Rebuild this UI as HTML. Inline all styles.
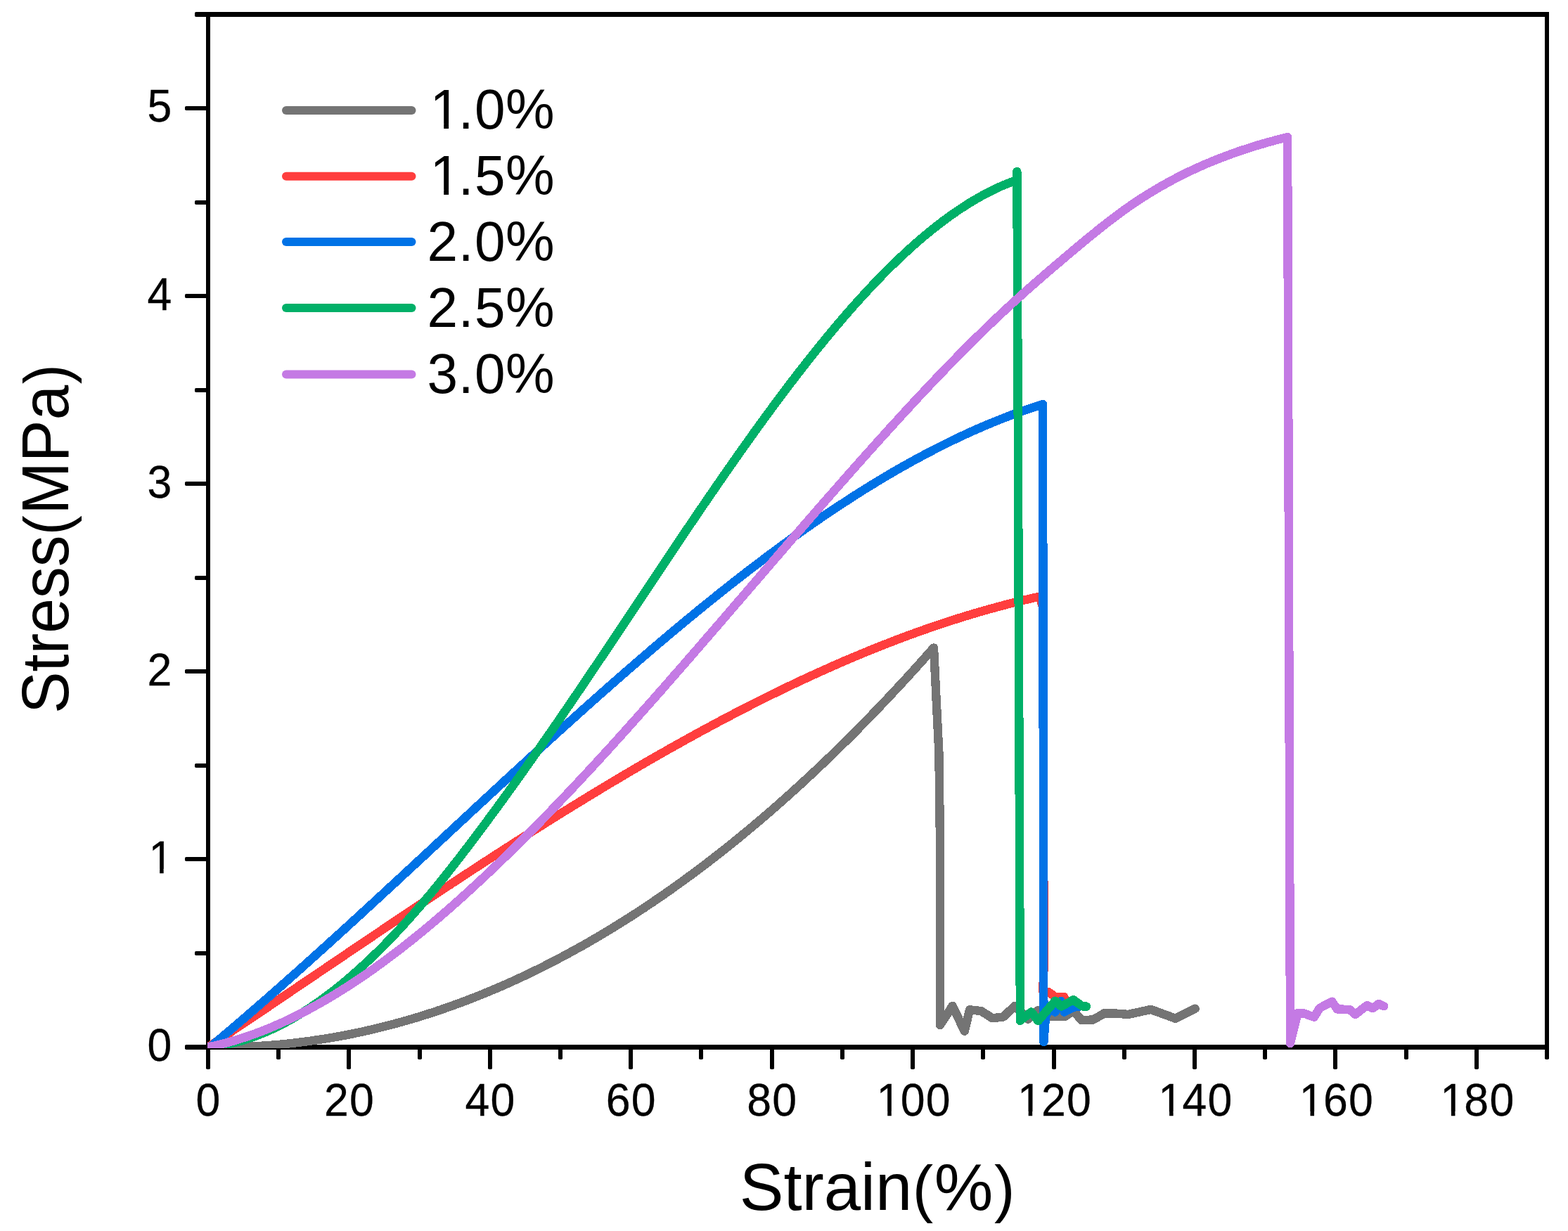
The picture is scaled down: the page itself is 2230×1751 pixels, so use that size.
<!DOCTYPE html>
<html lang="en">
<head>
<meta charset="utf-8">
<title>Stress-Strain curves</title>
<style>
html,body{margin:0;padding:0;background:#fff;}
body{width:2230px;height:1751px;overflow:hidden;font-family:"Liberation Sans",Arial,Helvetica,sans-serif;}
svg{display:block;}
text{white-space:pre;}
</style>
</head>
<body>
<svg xmlns="http://www.w3.org/2000/svg" width="2230" height="1751" viewBox="0 0 2230 1751">
<rect x="0" y="0" width="2230" height="1751" fill="#ffffff"/>
<defs><clipPath id="plotclip"><rect x="295" y="19" width="1906" height="1472"/></clipPath></defs>
<g id="axes" fill="#000" shape-rendering="crispEdges">
<rect x="293" y="17" width="1910" height="7"/>
<rect x="293" y="1486" width="1910" height="7"/>
<rect x="293" y="17" width="6" height="1476"/>
<rect x="2197" y="17" width="6" height="1476"/>
</g>
<g id="ticks" fill="#000">
<rect x="263" y="1486" width="33" height="7" rx="1.8"/>
<rect x="277" y="1353" width="19" height="6" rx="1.8"/>
<rect x="263" y="1219" width="33" height="6" rx="1.8"/>
<rect x="277" y="1086" width="19" height="6" rx="1.8"/>
<rect x="263" y="952" width="33" height="6" rx="1.8"/>
<rect x="277" y="819" width="19" height="6" rx="1.8"/>
<rect x="263" y="685" width="33" height="6" rx="1.8"/>
<rect x="277" y="552" width="19" height="6" rx="1.8"/>
<rect x="263" y="418" width="33" height="6" rx="1.8"/>
<rect x="277" y="285" width="19" height="6" rx="1.8"/>
<rect x="263" y="151" width="33" height="6" rx="1.8"/>
<rect x="277" y="17" width="19" height="7" rx="1.8"/>
<rect x="293" y="1491" width="6" height="30" rx="1.8"/>
<rect x="393" y="1491" width="6" height="16" rx="1.8"/>
<rect x="493" y="1491" width="6" height="30" rx="1.8"/>
<rect x="594" y="1491" width="6" height="16" rx="1.8"/>
<rect x="694" y="1491" width="6" height="30" rx="1.8"/>
<rect x="794" y="1491" width="6" height="16" rx="1.8"/>
<rect x="894" y="1491" width="6" height="30" rx="1.8"/>
<rect x="994" y="1491" width="6" height="16" rx="1.8"/>
<rect x="1095" y="1491" width="6" height="30" rx="1.8"/>
<rect x="1195" y="1491" width="6" height="16" rx="1.8"/>
<rect x="1295" y="1491" width="6" height="30" rx="1.8"/>
<rect x="1395" y="1491" width="6" height="16" rx="1.8"/>
<rect x="1496" y="1491" width="6" height="30" rx="1.8"/>
<rect x="1596" y="1491" width="6" height="16" rx="1.8"/>
<rect x="1696" y="1491" width="6" height="30" rx="1.8"/>
<rect x="1796" y="1491" width="6" height="16" rx="1.8"/>
<rect x="1896" y="1491" width="6" height="30" rx="1.8"/>
<rect x="1997" y="1491" width="6" height="16" rx="1.8"/>
<rect x="2097" y="1491" width="6" height="30" rx="1.8"/>
<rect x="2197" y="1491" width="6" height="16" rx="1.8"/>
</g>
<g id="curves" fill="none" stroke-linejoin="round" stroke-linecap="round" clip-path="url(#plotclip)" shape-rendering="crispEdges">
<path d="M296.0,1489.5 L300.0,1489.5 L304.0,1489.6 L308.0,1489.6 L312.0,1489.6 L316.0,1489.6 L320.0,1489.6 L324.0,1489.5 L328.0,1489.5 L332.0,1489.4 L336.0,1489.3 L340.0,1489.2 L344.0,1489.1 L348.0,1488.9 L352.0,1488.8 L356.0,1488.6 L360.0,1488.4 L364.0,1488.2 L368.0,1488.0 L372.0,1487.7 L376.0,1487.4 L380.0,1487.2 L384.0,1486.9 L388.0,1486.5 L392.0,1486.2 L396.0,1485.9 L400.0,1485.5 L404.0,1485.1 L408.0,1484.7 L412.0,1484.3 L416.0,1483.9 L420.0,1483.4 L424.0,1482.9 L428.0,1482.4 L432.0,1481.9 L436.0,1481.4 L440.0,1480.9 L444.0,1480.3 L448.0,1479.7 L452.0,1479.1 L456.0,1478.5 L460.0,1477.9 L464.0,1477.3 L468.0,1476.6 L472.0,1475.9 L476.0,1475.2 L480.0,1474.5 L484.0,1473.8 L488.0,1473.0 L492.0,1472.3 L496.0,1471.5 L500.0,1470.7 L504.0,1469.9 L508.0,1469.0 L512.0,1468.2 L516.0,1467.3 L520.0,1466.4 L524.0,1465.5 L528.0,1464.6 L532.0,1463.7 L536.0,1462.7 L540.0,1461.7 L544.0,1460.7 L548.0,1459.7 L552.0,1458.7 L556.0,1457.7 L560.0,1456.6 L564.0,1455.5 L568.0,1454.4 L572.0,1453.3 L576.0,1452.2 L580.0,1451.0 L584.0,1449.9 L588.0,1448.7 L592.0,1447.5 L596.0,1446.3 L600.0,1445.0 L604.0,1443.8 L608.0,1442.5 L612.0,1441.2 L616.0,1439.9 L620.0,1438.6 L624.0,1437.2 L628.0,1435.9 L632.0,1434.5 L636.0,1433.1 L640.0,1431.7 L644.0,1430.3 L648.0,1428.8 L652.0,1427.4 L656.0,1425.9 L660.0,1424.4 L664.0,1422.9 L668.0,1421.3 L672.0,1419.8 L676.0,1418.2 L680.0,1416.6 L684.0,1415.0 L688.0,1413.4 L692.0,1411.7 L696.0,1410.1 L700.0,1408.4 L704.0,1406.7 L708.0,1405.0 L712.0,1403.3 L716.0,1401.5 L720.0,1399.8 L724.0,1398.0 L728.0,1396.2 L732.0,1394.3 L736.0,1392.5 L740.0,1390.7 L744.0,1388.8 L748.0,1386.9 L752.0,1385.0 L756.0,1383.1 L760.0,1381.1 L764.0,1379.2 L768.0,1377.2 L772.0,1375.2 L776.0,1373.2 L780.0,1371.1 L784.0,1369.1 L788.0,1367.0 L792.0,1364.9 L796.0,1362.8 L800.0,1360.7 L804.0,1358.6 L808.0,1356.4 L812.0,1354.2 L816.0,1352.0 L820.0,1349.8 L824.0,1347.6 L828.0,1345.4 L832.0,1343.1 L836.0,1340.8 L840.0,1338.5 L844.0,1336.2 L848.0,1333.9 L852.0,1331.5 L856.0,1329.1 L860.0,1326.7 L864.0,1324.3 L868.0,1321.9 L872.0,1319.5 L876.0,1317.0 L880.0,1314.5 L884.0,1312.0 L888.0,1309.5 L892.0,1307.0 L896.0,1304.4 L900.0,1301.8 L904.0,1299.3 L908.0,1296.7 L912.0,1294.0 L916.0,1291.4 L920.0,1288.7 L924.0,1286.0 L928.0,1283.4 L932.0,1280.6 L936.0,1277.9 L940.0,1275.2 L944.0,1272.4 L948.0,1269.6 L952.0,1266.8 L956.0,1264.0 L960.0,1261.1 L964.0,1258.3 L968.0,1255.4 L972.0,1252.5 L976.0,1249.6 L980.0,1246.6 L984.0,1243.7 L988.0,1240.7 L992.0,1237.7 L996.0,1234.7 L1000.0,1231.7 L1004.0,1228.7 L1008.0,1225.6 L1012.0,1222.5 L1016.0,1219.4 L1020.0,1216.3 L1024.0,1213.2 L1028.0,1210.0 L1032.0,1206.9 L1036.0,1203.7 L1040.0,1200.5 L1044.0,1197.3 L1048.0,1194.0 L1052.0,1190.8 L1056.0,1187.5 L1060.0,1184.2 L1064.0,1180.9 L1068.0,1177.5 L1072.0,1174.2 L1076.0,1170.8 L1080.0,1167.4 L1084.0,1164.0 L1088.0,1160.6 L1092.0,1157.2 L1096.0,1153.7 L1100.0,1150.2 L1104.0,1146.7 L1108.0,1143.2 L1112.0,1139.7 L1116.0,1136.1 L1120.0,1132.5 L1124.0,1129.0 L1128.0,1125.3 L1132.0,1121.7 L1136.0,1118.1 L1140.0,1114.4 L1144.0,1110.7 L1148.0,1107.0 L1152.0,1103.3 L1156.0,1099.6 L1160.0,1095.8 L1164.0,1092.0 L1168.0,1088.2 L1172.0,1084.4 L1176.0,1080.6 L1180.0,1076.8 L1184.0,1072.9 L1188.0,1069.0 L1192.0,1065.1 L1196.0,1061.2 L1200.0,1057.2 L1204.0,1053.3 L1208.0,1049.3 L1212.0,1045.3 L1216.0,1041.3 L1220.0,1037.3 L1224.0,1033.2 L1228.0,1029.1 L1232.0,1025.1 L1236.0,1020.9 L1240.0,1016.8 L1244.0,1012.7 L1248.0,1008.5 L1252.0,1004.3 L1256.0,1000.1 L1260.0,995.9 L1264.0,991.7 L1268.0,987.4 L1272.0,983.1 L1276.0,978.8 L1280.0,974.5 L1284.0,970.2 L1288.0,965.9 L1292.0,961.5 L1296.0,957.1 L1300.0,952.7 L1304.0,948.3 L1308.0,943.8 L1312.0,939.4 L1316.0,934.9 L1320.0,930.4 L1324.0,925.9 L1328.0,921.5 L1335.4,1071.0 L1337.0,1200.0 L1337.0,1458.0 L1354.7,1430.8 L1371.7,1466.7 L1379.1,1436.3 L1395.6,1438.2 L1411.3,1448.3 L1426.9,1446.4 L1443.4,1430.8 L1462.0,1449.8 L1476.4,1437.0 L1491.8,1446.2 L1513.7,1446.2 L1527.0,1438.0 L1538.2,1451.3 L1554.9,1450.4 L1570.6,1441.3 L1583.0,1441.3 L1604.6,1442.9 L1636.8,1435.9 L1671.6,1448.7 L1699.7,1434.7" stroke="#747474" stroke-width="12.4"/>
<path d="M296.0,1489.5 L300.0,1486.9 L304.0,1484.2 L308.0,1481.5 L312.0,1478.8 L316.0,1476.2 L320.0,1473.5 L324.0,1470.8 L328.0,1468.1 L332.0,1465.4 L336.0,1462.7 L340.0,1460.0 L344.0,1457.3 L348.0,1454.7 L352.0,1452.0 L356.0,1449.3 L360.0,1446.6 L364.0,1443.9 L368.0,1441.2 L372.0,1438.5 L376.0,1435.8 L380.0,1433.1 L384.0,1430.4 L388.0,1427.7 L392.0,1425.0 L396.0,1422.3 L400.0,1419.6 L404.0,1416.9 L408.0,1414.2 L412.0,1411.5 L416.0,1408.7 L420.0,1406.0 L424.0,1403.3 L428.0,1400.6 L432.0,1397.9 L436.0,1395.2 L440.0,1392.5 L444.0,1389.8 L448.0,1387.1 L452.0,1384.4 L456.0,1381.7 L460.0,1379.0 L464.0,1376.3 L468.0,1373.6 L472.0,1370.9 L476.0,1368.2 L480.0,1365.5 L484.0,1362.8 L488.0,1360.1 L492.0,1357.4 L496.0,1354.6 L500.0,1351.9 L504.0,1349.2 L508.0,1346.6 L512.0,1343.9 L516.0,1341.2 L520.0,1338.5 L524.0,1335.8 L528.0,1333.1 L532.0,1330.4 L536.0,1327.7 L540.0,1325.0 L544.0,1322.3 L548.0,1319.6 L552.0,1316.9 L556.0,1314.3 L560.0,1311.6 L564.0,1308.9 L568.0,1306.2 L572.0,1303.5 L576.0,1300.9 L580.0,1298.2 L584.0,1295.5 L588.0,1292.9 L592.0,1290.2 L596.0,1287.5 L600.0,1284.9 L604.0,1282.2 L608.0,1279.5 L612.0,1276.9 L616.0,1274.2 L620.0,1271.6 L624.0,1268.9 L628.0,1266.3 L632.0,1263.6 L636.0,1261.0 L640.0,1258.4 L644.0,1255.7 L648.0,1253.1 L652.0,1250.5 L656.0,1247.8 L660.0,1245.2 L664.0,1242.6 L668.0,1240.0 L672.0,1237.3 L676.0,1234.7 L680.0,1232.1 L684.0,1229.5 L688.0,1226.9 L692.0,1224.3 L696.0,1221.7 L700.0,1219.1 L704.0,1216.5 L708.0,1214.0 L712.0,1211.4 L716.0,1208.8 L720.0,1206.2 L724.0,1203.7 L728.0,1201.1 L732.0,1198.5 L736.0,1196.0 L740.0,1193.4 L744.0,1190.9 L748.0,1188.3 L752.0,1185.8 L756.0,1183.2 L760.0,1180.7 L764.0,1178.2 L768.0,1175.7 L772.0,1173.1 L776.0,1170.6 L780.0,1168.1 L784.0,1165.6 L788.0,1163.1 L792.0,1160.6 L796.0,1158.1 L800.0,1155.6 L804.0,1153.1 L808.0,1150.7 L812.0,1148.2 L816.0,1145.7 L820.0,1143.3 L824.0,1140.8 L828.0,1138.4 L832.0,1135.9 L836.0,1133.5 L840.0,1131.0 L844.0,1128.6 L848.0,1126.2 L852.0,1123.8 L856.0,1121.3 L860.0,1118.9 L864.0,1116.5 L868.0,1114.1 L872.0,1111.7 L876.0,1109.4 L880.0,1107.0 L884.0,1104.6 L888.0,1102.2 L892.0,1099.9 L896.0,1097.5 L900.0,1095.2 L904.0,1092.8 L908.0,1090.5 L912.0,1088.2 L916.0,1085.8 L920.0,1083.5 L924.0,1081.2 L928.0,1078.9 L932.0,1076.6 L936.0,1074.3 L940.0,1072.0 L944.0,1069.8 L948.0,1067.5 L952.0,1065.2 L956.0,1063.0 L960.0,1060.7 L964.0,1058.5 L968.0,1056.3 L972.0,1054.0 L976.0,1051.8 L980.0,1049.6 L984.0,1047.4 L988.0,1045.2 L992.0,1043.0 L996.0,1040.8 L1000.0,1038.6 L1004.0,1036.5 L1008.0,1034.3 L1012.0,1032.2 L1016.0,1030.0 L1020.0,1027.9 L1024.0,1025.7 L1028.0,1023.6 L1032.0,1021.5 L1036.0,1019.4 L1040.0,1017.3 L1044.0,1015.2 L1048.0,1013.1 L1052.0,1011.1 L1056.0,1009.0 L1060.0,1006.9 L1064.0,1004.9 L1068.0,1002.8 L1072.0,1000.8 L1076.0,998.8 L1080.0,996.8 L1084.0,994.8 L1088.0,992.8 L1092.0,990.8 L1096.0,988.8 L1100.0,986.8 L1104.0,984.9 L1108.0,982.9 L1112.0,981.0 L1116.0,979.1 L1120.0,977.1 L1124.0,975.2 L1128.0,973.3 L1132.0,971.4 L1136.0,969.5 L1140.0,967.6 L1144.0,965.8 L1148.0,963.9 L1152.0,962.1 L1156.0,960.2 L1160.0,958.4 L1164.0,956.6 L1168.0,954.8 L1172.0,953.0 L1176.0,951.2 L1180.0,949.4 L1184.0,947.6 L1188.0,945.9 L1192.0,944.1 L1196.0,942.4 L1200.0,940.6 L1204.0,938.9 L1208.0,937.2 L1212.0,935.5 L1216.0,933.8 L1220.0,932.2 L1224.0,930.5 L1228.0,928.8 L1232.0,927.2 L1236.0,925.5 L1240.0,923.9 L1244.0,922.3 L1248.0,920.7 L1252.0,919.1 L1256.0,917.5 L1260.0,916.0 L1264.0,914.4 L1268.0,912.9 L1272.0,911.3 L1276.0,909.8 L1280.0,908.3 L1284.0,906.8 L1288.0,905.3 L1292.0,903.8 L1296.0,902.3 L1300.0,900.9 L1304.0,899.4 L1308.0,898.0 L1312.0,896.6 L1316.0,895.2 L1320.0,893.8 L1324.0,892.4 L1328.0,891.0 L1332.0,889.7 L1336.0,888.3 L1340.0,887.0 L1344.0,885.7 L1348.0,884.3 L1352.0,883.0 L1356.0,881.8 L1360.0,880.5 L1364.0,879.2 L1368.0,878.0 L1372.0,876.7 L1376.0,875.5 L1380.0,874.3 L1384.0,873.1 L1388.0,871.9 L1392.0,870.7 L1396.0,869.6 L1400.0,868.4 L1404.0,867.3 L1408.0,866.2 L1412.0,865.1 L1416.0,864.0 L1420.0,862.9 L1424.0,861.8 L1428.0,860.8 L1432.0,859.7 L1436.0,858.7 L1440.0,857.7 L1444.0,856.7 L1448.0,855.7 L1452.0,854.7 L1456.0,853.7 L1460.0,852.8 L1464.0,851.9 L1468.0,850.9 L1472.0,850.0 L1476.0,849.1 L1480.0,848.3 L1481.0,848.0 L1481.2,857.0 L1484.0,866.0 L1484.4,1380.0 L1483.2,1410.0 L1491.0,1411.0 L1500.8,1418.0 L1513.5,1418.0" stroke="#FF3E3E" stroke-width="12.4"/>
<path d="M296.0,1491.3 L300.0,1488.5 L304.0,1485.1 L308.0,1481.8 L312.0,1478.4 L316.0,1475.0 L320.0,1471.6 L324.0,1468.2 L328.0,1464.9 L332.0,1461.4 L336.0,1458.0 L340.0,1454.6 L344.0,1451.2 L348.0,1447.7 L352.0,1444.3 L356.0,1440.8 L360.0,1437.4 L364.0,1433.9 L368.0,1430.4 L372.0,1426.9 L376.0,1423.5 L380.0,1420.0 L384.0,1416.5 L388.0,1412.9 L392.0,1409.4 L396.0,1405.9 L400.0,1402.4 L404.0,1398.8 L408.0,1395.3 L412.0,1391.7 L416.0,1388.2 L420.0,1384.6 L424.0,1381.1 L428.0,1377.5 L432.0,1373.9 L436.0,1370.3 L440.0,1366.7 L444.0,1363.1 L448.0,1359.5 L452.0,1355.9 L456.0,1352.3 L460.0,1348.7 L464.0,1345.1 L468.0,1341.5 L472.0,1337.8 L476.0,1334.2 L480.0,1330.6 L484.0,1326.9 L488.0,1323.3 L492.0,1319.7 L496.0,1316.0 L500.0,1312.3 L504.0,1308.7 L508.0,1305.0 L512.0,1301.4 L516.0,1297.7 L520.0,1294.0 L524.0,1290.3 L528.0,1286.7 L532.0,1283.0 L536.0,1279.3 L540.0,1275.6 L544.0,1271.9 L548.0,1268.2 L552.0,1264.5 L556.0,1260.8 L560.0,1257.2 L564.0,1253.5 L568.0,1249.8 L572.0,1246.0 L576.0,1242.3 L580.0,1238.6 L584.0,1234.9 L588.0,1231.2 L592.0,1227.5 L596.0,1223.8 L600.0,1220.1 L604.0,1216.4 L608.0,1212.7 L612.0,1209.0 L616.0,1205.2 L620.0,1201.5 L624.0,1197.8 L628.0,1194.1 L632.0,1190.4 L636.0,1186.7 L640.0,1182.9 L644.0,1179.2 L648.0,1175.5 L652.0,1171.8 L656.0,1168.1 L660.0,1164.4 L664.0,1160.7 L668.0,1157.0 L672.0,1153.2 L676.0,1149.5 L680.0,1145.8 L684.0,1142.1 L688.0,1138.4 L692.0,1134.7 L696.0,1131.0 L700.0,1127.3 L704.0,1123.6 L708.0,1119.9 L712.0,1116.2 L716.0,1112.5 L720.0,1108.8 L724.0,1105.1 L728.0,1101.5 L732.0,1097.8 L736.0,1094.1 L740.0,1090.4 L744.0,1086.8 L748.0,1083.1 L752.0,1079.4 L756.0,1075.7 L760.0,1072.1 L764.0,1068.4 L768.0,1064.8 L772.0,1061.1 L776.0,1057.5 L780.0,1053.8 L784.0,1050.2 L788.0,1046.6 L792.0,1042.9 L796.0,1039.3 L800.0,1035.7 L804.0,1032.1 L808.0,1028.5 L812.0,1024.9 L816.0,1021.3 L820.0,1017.7 L824.0,1014.1 L828.0,1010.5 L832.0,1006.9 L836.0,1003.3 L840.0,999.8 L844.0,996.2 L848.0,992.6 L852.0,989.1 L856.0,985.5 L860.0,982.0 L864.0,978.5 L868.0,974.9 L872.0,971.4 L876.0,967.9 L880.0,964.4 L884.0,960.9 L888.0,957.4 L892.0,953.9 L896.0,950.4 L900.0,947.0 L904.0,943.5 L908.0,940.0 L912.0,936.6 L916.0,933.1 L920.0,929.7 L924.0,926.3 L928.0,922.8 L932.0,919.4 L936.0,916.0 L940.0,912.6 L944.0,909.3 L948.0,905.9 L952.0,902.5 L956.0,899.1 L960.0,895.8 L964.0,892.4 L968.0,889.1 L972.0,885.8 L976.0,882.5 L980.0,879.2 L984.0,875.9 L988.0,872.6 L992.0,869.3 L996.0,866.0 L1000.0,862.8 L1004.0,859.5 L1008.0,856.3 L1012.0,853.1 L1016.0,849.9 L1020.0,846.6 L1024.0,843.4 L1028.0,840.3 L1032.0,837.1 L1036.0,833.9 L1040.0,830.8 L1044.0,827.6 L1048.0,824.5 L1052.0,821.4 L1056.0,818.3 L1060.0,815.2 L1064.0,812.1 L1068.0,809.0 L1072.0,806.0 L1076.0,802.9 L1080.0,799.9 L1084.0,796.9 L1088.0,793.8 L1092.0,790.8 L1096.0,787.9 L1100.0,784.9 L1104.0,781.9 L1108.0,779.0 L1112.0,776.0 L1116.0,773.1 L1120.0,770.2 L1124.0,767.3 L1128.0,764.4 L1132.0,761.6 L1136.0,758.7 L1140.0,755.9 L1144.0,753.0 L1148.0,750.2 L1152.0,747.4 L1156.0,744.6 L1160.0,741.9 L1164.0,739.1 L1168.0,736.4 L1172.0,733.6 L1176.0,730.9 L1180.0,728.2 L1184.0,725.5 L1188.0,722.9 L1192.0,720.2 L1196.0,717.6 L1200.0,715.0 L1204.0,712.4 L1208.0,709.8 L1212.0,707.2 L1216.0,704.6 L1220.0,702.1 L1224.0,699.6 L1228.0,697.0 L1232.0,694.5 L1236.0,692.1 L1240.0,689.6 L1244.0,687.2 L1248.0,684.7 L1252.0,682.3 L1256.0,679.9 L1260.0,677.5 L1264.0,675.2 L1268.0,672.8 L1272.0,670.5 L1276.0,668.2 L1280.0,665.9 L1284.0,663.6 L1288.0,661.4 L1292.0,659.1 L1296.0,656.9 L1300.0,654.7 L1304.0,652.5 L1308.0,650.4 L1312.0,648.2 L1316.0,646.1 L1320.0,644.0 L1324.0,641.9 L1328.0,639.8 L1332.0,637.7 L1336.0,635.7 L1340.0,633.7 L1344.0,631.7 L1348.0,629.7 L1352.0,627.8 L1356.0,625.8 L1360.0,623.9 L1364.0,622.0 L1368.0,620.1 L1372.0,618.3 L1376.0,616.4 L1380.0,614.6 L1384.0,612.8 L1388.0,611.0 L1392.0,609.3 L1396.0,607.5 L1400.0,605.8 L1404.0,604.1 L1408.0,602.5 L1412.0,600.8 L1416.0,599.2 L1420.0,597.6 L1424.0,596.0 L1428.0,594.4 L1432.0,592.9 L1436.0,591.3 L1440.0,589.8 L1444.0,588.4 L1448.0,586.9 L1452.0,585.5 L1456.0,584.1 L1460.0,582.7 L1464.0,581.3 L1468.0,580.0 L1472.0,578.6 L1476.0,577.3 L1480.0,576.1 L1483.0,575.0 L1484.4,1482.0 L1487.0,1446.0 L1491.8,1436.0 L1500.8,1439.5 L1508.9,1424.0 L1513.7,1439.5 L1520.2,1436.0 L1526.6,1432.7 L1535.6,1431.4" stroke="#0072E6" stroke-width="12.4"/>
<path d="M296.0,1489.5 L300.0,1489.1 L304.0,1488.6 L308.0,1488.1 L312.0,1487.5 L316.0,1486.8 L320.0,1486.1 L324.0,1485.3 L328.0,1484.4 L332.0,1483.4 L336.0,1482.4 L340.0,1481.4 L344.0,1480.2 L348.0,1479.0 L352.0,1477.7 L356.0,1476.4 L360.0,1475.0 L364.0,1473.5 L368.0,1472.0 L372.0,1470.4 L376.0,1468.8 L380.0,1467.0 L384.0,1465.3 L388.0,1463.4 L392.0,1461.5 L396.0,1459.5 L400.0,1457.5 L404.0,1455.4 L408.0,1453.3 L412.0,1451.1 L416.0,1448.8 L420.0,1446.5 L424.0,1444.1 L428.0,1441.7 L432.0,1439.2 L436.0,1436.6 L440.0,1434.0 L444.0,1431.3 L448.0,1428.6 L452.0,1425.8 L456.0,1423.0 L460.0,1420.1 L464.0,1417.1 L468.0,1414.1 L472.0,1411.0 L476.0,1407.9 L480.0,1404.7 L484.0,1401.5 L488.0,1398.2 L492.0,1394.9 L496.0,1391.5 L500.0,1388.1 L504.0,1384.6 L508.0,1381.0 L512.0,1377.4 L516.0,1373.8 L520.0,1370.1 L524.0,1366.3 L528.0,1362.5 L532.0,1358.7 L536.0,1354.8 L540.0,1350.8 L544.0,1346.9 L548.0,1342.8 L552.0,1338.7 L556.0,1334.6 L560.0,1330.4 L564.0,1326.2 L568.0,1321.9 L572.0,1317.5 L576.0,1313.2 L580.0,1308.8 L584.0,1304.3 L588.0,1299.8 L592.0,1295.2 L596.0,1290.6 L600.0,1286.0 L604.0,1281.3 L608.0,1276.6 L612.0,1271.8 L616.0,1267.0 L620.0,1262.1 L624.0,1257.2 L628.0,1252.3 L632.0,1247.3 L636.0,1242.3 L640.0,1237.2 L644.0,1232.1 L648.0,1227.0 L652.0,1221.9 L656.0,1216.7 L660.0,1211.5 L664.0,1206.2 L668.0,1201.0 L672.0,1195.7 L676.0,1190.4 L680.0,1185.1 L684.0,1179.7 L688.0,1174.3 L692.0,1168.9 L696.0,1163.5 L700.0,1158.1 L704.0,1152.6 L708.0,1147.2 L712.0,1141.7 L716.0,1136.2 L720.0,1130.7 L724.0,1125.1 L728.0,1119.6 L732.0,1114.0 L736.0,1108.4 L740.0,1102.8 L744.0,1097.2 L748.0,1091.5 L752.0,1085.9 L756.0,1080.2 L760.0,1074.5 L764.0,1068.8 L768.0,1063.1 L772.0,1057.3 L776.0,1051.6 L780.0,1045.8 L784.0,1040.1 L788.0,1034.3 L792.0,1028.5 L796.0,1022.6 L800.0,1016.8 L804.0,1011.0 L808.0,1005.1 L812.0,999.3 L816.0,993.4 L820.0,987.5 L824.0,981.6 L828.0,975.7 L832.0,969.8 L836.0,963.8 L840.0,957.9 L844.0,951.9 L848.0,946.0 L852.0,940.0 L856.0,934.1 L860.0,928.1 L864.0,922.1 L868.0,916.1 L872.0,910.1 L876.0,904.1 L880.0,898.1 L884.0,892.1 L888.0,886.1 L892.0,880.1 L896.0,874.1 L900.0,868.1 L904.0,862.1 L908.0,856.1 L912.0,850.1 L916.0,844.1 L920.0,838.1 L924.0,832.1 L928.0,826.1 L932.0,820.1 L936.0,814.1 L940.0,808.1 L944.0,802.1 L948.0,796.1 L952.0,790.1 L956.0,784.2 L960.0,778.2 L964.0,772.3 L968.0,766.3 L972.0,760.4 L976.0,754.4 L980.0,748.5 L984.0,742.6 L988.0,736.7 L992.0,730.8 L996.0,724.9 L1000.0,719.0 L1004.0,713.2 L1008.0,707.3 L1012.0,701.5 L1016.0,695.7 L1020.0,689.9 L1024.0,684.1 L1028.0,678.3 L1032.0,672.5 L1036.0,666.8 L1040.0,661.1 L1044.0,655.3 L1048.0,649.7 L1052.0,644.0 L1056.0,638.3 L1060.0,632.7 L1064.0,627.1 L1068.0,621.5 L1072.0,615.9 L1076.0,610.3 L1080.0,604.8 L1084.0,599.3 L1088.0,593.8 L1092.0,588.3 L1096.0,582.9 L1100.0,577.4 L1104.0,572.0 L1108.0,566.7 L1112.0,561.3 L1116.0,556.0 L1120.0,550.7 L1124.0,545.5 L1128.0,540.2 L1132.0,535.0 L1136.0,529.8 L1140.0,524.7 L1144.0,519.6 L1148.0,514.5 L1152.0,509.4 L1156.0,504.4 L1160.0,499.4 L1164.0,494.4 L1168.0,489.5 L1172.0,484.6 L1176.0,479.7 L1180.0,474.9 L1184.0,470.1 L1188.0,465.3 L1192.0,460.6 L1196.0,455.9 L1200.0,451.2 L1204.0,446.6 L1208.0,442.1 L1212.0,437.5 L1216.0,433.0 L1220.0,428.5 L1224.0,424.1 L1228.0,419.7 L1232.0,415.4 L1236.0,411.1 L1240.0,406.8 L1244.0,402.6 L1248.0,398.5 L1252.0,394.3 L1256.0,390.2 L1260.0,386.2 L1264.0,382.2 L1268.0,378.2 L1272.0,374.3 L1276.0,370.5 L1280.0,366.7 L1284.0,362.9 L1288.0,359.2 L1292.0,355.5 L1296.0,351.9 L1300.0,348.3 L1304.0,344.8 L1308.0,341.3 L1312.0,337.9 L1316.0,334.5 L1320.0,331.2 L1324.0,328.0 L1328.0,324.7 L1332.0,321.6 L1336.0,318.5 L1340.0,315.4 L1344.0,312.4 L1348.0,309.5 L1352.0,306.6 L1356.0,303.8 L1360.0,301.0 L1364.0,298.3 L1368.0,295.7 L1372.0,293.1 L1376.0,290.5 L1380.0,288.0 L1384.0,285.6 L1388.0,283.3 L1392.0,281.0 L1396.0,278.7 L1400.0,276.6 L1404.0,274.4 L1408.0,272.4 L1412.0,270.4 L1416.0,268.5 L1420.0,266.6 L1424.0,264.8 L1428.0,263.1 L1432.0,261.5 L1436.0,259.9 L1440.0,258.4 L1446.4,257.0 L1446.4,244.0 L1447.6,560.0 L1450.9,1451.8 L1466.7,1439.4 L1476.4,1452.0 L1500.8,1423.6 L1509.2,1431.4 L1526.6,1422.3 L1539.5,1431.4 L1545.0,1431.6" stroke="#00B068" stroke-width="12.4"/>
<path d="M296.0,1489.5 L300.0,1488.7 L304.0,1487.8 L308.0,1486.9 L312.0,1485.9 L316.0,1484.9 L320.0,1483.9 L324.0,1482.8 L328.0,1481.7 L332.0,1480.5 L336.0,1479.3 L340.0,1478.1 L344.0,1476.8 L348.0,1475.5 L352.0,1474.2 L356.0,1472.8 L360.0,1471.4 L364.0,1469.9 L368.0,1468.4 L372.0,1466.9 L376.0,1465.3 L380.0,1463.7 L384.0,1462.0 L388.0,1460.4 L392.0,1458.6 L396.0,1456.9 L400.0,1455.1 L404.0,1453.3 L408.0,1451.4 L412.0,1449.5 L416.0,1447.6 L420.0,1445.6 L424.0,1443.6 L428.0,1441.6 L432.0,1439.5 L436.0,1437.4 L440.0,1435.3 L444.0,1433.1 L448.0,1430.9 L452.0,1428.7 L456.0,1426.5 L460.0,1424.2 L464.0,1421.8 L468.0,1419.5 L472.0,1417.1 L476.0,1414.7 L480.0,1412.2 L484.0,1409.7 L488.0,1407.2 L492.0,1404.7 L496.0,1402.1 L500.0,1399.5 L504.0,1396.9 L508.0,1394.2 L512.0,1391.5 L516.0,1388.8 L520.0,1386.1 L524.0,1383.3 L528.0,1380.5 L532.0,1377.7 L536.0,1374.8 L540.0,1371.9 L544.0,1369.0 L548.0,1366.1 L552.0,1363.1 L556.0,1360.1 L560.0,1357.1 L564.0,1354.0 L568.0,1351.0 L572.0,1347.9 L576.0,1344.7 L580.0,1341.6 L584.0,1338.4 L588.0,1335.2 L592.0,1332.0 L596.0,1328.7 L600.0,1325.5 L604.0,1322.2 L608.0,1318.9 L612.0,1315.5 L616.0,1312.2 L620.0,1308.8 L624.0,1305.4 L628.0,1301.9 L632.0,1298.5 L636.0,1295.0 L640.0,1291.5 L644.0,1288.0 L648.0,1284.4 L652.0,1280.9 L656.0,1277.3 L660.0,1273.7 L664.0,1270.0 L668.0,1266.4 L672.0,1262.7 L676.0,1259.0 L680.0,1255.3 L684.0,1251.6 L688.0,1247.9 L692.0,1244.1 L696.0,1240.3 L700.0,1236.5 L704.0,1232.7 L708.0,1228.9 L712.0,1225.0 L716.0,1221.2 L720.0,1217.3 L724.0,1213.4 L728.0,1209.4 L732.0,1205.5 L736.0,1201.5 L740.0,1197.6 L744.0,1193.6 L748.0,1189.6 L752.0,1185.6 L756.0,1181.5 L760.0,1177.5 L764.0,1173.4 L768.0,1169.3 L772.0,1165.2 L776.0,1161.1 L780.0,1157.0 L784.0,1152.8 L788.0,1148.7 L792.0,1144.5 L796.0,1140.3 L800.0,1136.1 L804.0,1131.9 L808.0,1127.7 L812.0,1123.5 L816.0,1119.2 L820.0,1115.0 L824.0,1110.7 L828.0,1106.4 L832.0,1102.1 L836.0,1097.8 L840.0,1093.5 L844.0,1089.2 L848.0,1084.8 L852.0,1080.5 L856.0,1076.1 L860.0,1071.7 L864.0,1067.4 L868.0,1063.0 L872.0,1058.6 L876.0,1054.1 L880.0,1049.7 L884.0,1045.3 L888.0,1040.8 L892.0,1036.4 L896.0,1031.9 L900.0,1027.5 L904.0,1023.0 L908.0,1018.5 L912.0,1014.0 L916.0,1009.5 L920.0,1005.0 L924.0,1000.5 L928.0,996.0 L932.0,991.4 L936.0,986.9 L940.0,982.4 L944.0,977.8 L948.0,973.2 L952.0,968.7 L956.0,964.1 L960.0,959.5 L964.0,955.0 L968.0,950.4 L972.0,945.8 L976.0,941.2 L980.0,936.6 L984.0,932.0 L988.0,927.4 L992.0,922.8 L996.0,918.2 L1000.0,913.6 L1004.0,908.9 L1008.0,904.3 L1012.0,899.7 L1016.0,895.1 L1020.0,890.4 L1024.0,885.8 L1028.0,881.2 L1032.0,876.5 L1036.0,871.9 L1040.0,867.2 L1044.0,862.6 L1048.0,857.9 L1052.0,853.3 L1056.0,848.7 L1060.0,844.0 L1064.0,839.4 L1068.0,834.7 L1072.0,830.1 L1076.0,825.4 L1080.0,820.8 L1084.0,816.1 L1088.0,811.5 L1092.0,806.8 L1096.0,802.2 L1100.0,797.6 L1104.0,792.9 L1108.0,788.3 L1112.0,783.6 L1116.0,779.0 L1120.0,774.4 L1124.0,769.7 L1128.0,765.1 L1132.0,760.5 L1136.0,755.9 L1140.0,751.3 L1144.0,746.6 L1148.0,742.0 L1152.0,737.4 L1156.0,732.8 L1160.0,728.2 L1164.0,723.6 L1168.0,719.1 L1172.0,714.5 L1176.0,709.9 L1180.0,705.3 L1184.0,700.8 L1188.0,696.2 L1192.0,691.7 L1196.0,687.1 L1200.0,682.6 L1204.0,678.0 L1208.0,673.5 L1212.0,669.0 L1216.0,664.5 L1220.0,660.0 L1224.0,655.5 L1228.0,651.0 L1232.0,646.5 L1236.0,642.0 L1240.0,637.6 L1244.0,633.1 L1248.0,628.6 L1252.0,624.2 L1256.0,619.8 L1260.0,615.4 L1264.0,610.9 L1268.0,606.5 L1272.0,602.2 L1276.0,597.8 L1280.0,593.4 L1284.0,589.0 L1288.0,584.7 L1292.0,580.4 L1296.0,576.0 L1300.0,571.7 L1304.0,567.4 L1308.0,563.1 L1312.0,558.9 L1316.0,554.6 L1320.0,550.4 L1324.0,546.1 L1328.0,541.9 L1332.0,537.7 L1336.0,533.6 L1340.0,529.4 L1344.0,525.2 L1348.0,521.1 L1352.0,517.0 L1356.0,512.9 L1360.0,508.8 L1364.0,504.7 L1368.0,500.7 L1372.0,496.6 L1376.0,492.6 L1380.0,488.6 L1384.0,484.7 L1388.0,480.7 L1392.0,476.8 L1396.0,472.9 L1400.0,469.0 L1404.0,465.1 L1408.0,461.2 L1412.0,457.4 L1416.0,453.6 L1420.0,449.8 L1424.0,446.1 L1428.0,442.3 L1432.0,438.6 L1436.0,434.9 L1440.0,431.2 L1444.0,427.6 L1448.0,424.0 L1452.0,420.4 L1456.0,416.8 L1460.0,413.2 L1464.0,409.7 L1468.0,406.1 L1472.0,402.6 L1476.0,399.1 L1480.0,395.7 L1484.0,392.2 L1488.0,388.8 L1492.0,385.3 L1496.0,381.9 L1500.0,378.5 L1504.0,375.1 L1508.0,371.7 L1512.0,368.3 L1516.0,364.9 L1520.0,361.5 L1524.0,358.2 L1528.0,354.8 L1532.0,351.5 L1536.0,348.1 L1540.0,344.8 L1544.0,341.5 L1548.0,338.2 L1552.0,334.9 L1556.0,331.7 L1560.0,328.4 L1564.0,325.2 L1568.0,322.1 L1572.0,318.9 L1576.0,315.8 L1580.0,312.7 L1584.0,309.7 L1588.0,306.7 L1592.0,303.7 L1596.0,300.8 L1600.0,297.9 L1604.0,295.1 L1608.0,292.3 L1612.0,289.6 L1616.0,286.9 L1620.0,284.2 L1624.0,281.6 L1628.0,279.1 L1632.0,276.6 L1636.0,274.1 L1640.0,271.7 L1644.0,269.3 L1648.0,266.9 L1652.0,264.6 L1656.0,262.4 L1660.0,260.1 L1664.0,257.9 L1668.0,255.8 L1672.0,253.7 L1676.0,251.6 L1680.0,249.6 L1684.0,247.6 L1688.0,245.6 L1692.0,243.7 L1696.0,241.8 L1700.0,239.9 L1704.0,238.1 L1708.0,236.3 L1712.0,234.6 L1716.0,232.8 L1720.0,231.2 L1724.0,229.5 L1728.0,227.9 L1732.0,226.3 L1736.0,224.7 L1740.0,223.2 L1744.0,221.7 L1748.0,220.2 L1752.0,218.7 L1756.0,217.3 L1760.0,215.9 L1764.0,214.5 L1768.0,213.2 L1772.0,211.9 L1776.0,210.6 L1780.0,209.3 L1784.0,208.1 L1788.0,206.8 L1792.0,205.6 L1796.0,204.5 L1800.0,203.3 L1804.0,202.2 L1808.0,201.1 L1812.0,200.0 L1816.0,198.9 L1820.0,197.8 L1824.0,196.8 L1828.0,195.8 L1831.1,195.0 L1835.0,1484.0 L1845.6,1441.3 L1853.9,1441.3 L1868.8,1446.7 L1877.0,1433.8 L1894.4,1424.7 L1901.9,1435.5 L1919.2,1435.9 L1927.5,1442.9 L1944.1,1430.1 L1952.3,1434.2 L1960.6,1428.0 L1968.1,1431.3" stroke="#C47AE4" stroke-width="12.4"/>
</g>
<g id="ticklabels" font-family="'Liberation Sans', Arial, Helvetica, sans-serif" fill="#000">
<text transform="translate(209.58,1508.9) scale(1.0,1.035)" font-size="62.6" text-anchor="start" stroke="#000" stroke-width="0.3">0</text>
<text transform="translate(211.38,1241.81) scale(1.0,1.035)" font-size="62.6" text-anchor="start" stroke="#000" stroke-width="0.3">1</text>
<text transform="translate(209.58,974.72) scale(1.0,1.035)" font-size="62.6" text-anchor="start" stroke="#000" stroke-width="0.3">2</text>
<text transform="translate(209.58,707.63) scale(1.0,1.035)" font-size="62.6" text-anchor="start" stroke="#000" stroke-width="0.3">3</text>
<text transform="translate(209.58,440.54) scale(1.0,1.035)" font-size="62.6" text-anchor="start" stroke="#000" stroke-width="0.3">4</text>
<text transform="translate(209.58,173.45) scale(1.0,1.035)" font-size="62.6" text-anchor="start" stroke="#000" stroke-width="0.3">5</text>
<text transform="translate(0,1587) scale(1,1.035)" x="278.59" y="0" font-size="62.6" stroke="#000" stroke-width="0.3">0</text>
<text transform="translate(0,1587) scale(1,1.035)" x="461.01 497.01" y="0" font-size="62.6" stroke="#000" stroke-width="0.3">20</text>
<text transform="translate(0,1587) scale(1,1.035)" x="661.43 697.43" y="0" font-size="62.6" stroke="#000" stroke-width="0.3">40</text>
<text transform="translate(0,1587) scale(1,1.035)" x="861.86 897.86" y="0" font-size="62.6" stroke="#000" stroke-width="0.3">60</text>
<text transform="translate(0,1587) scale(1,1.035)" x="1062.28 1098.28" y="0" font-size="62.6" stroke="#000" stroke-width="0.3">80</text>
<text transform="translate(0,1587) scale(1,1.035)" x="1246.5 1280.7 1316.7" y="0" font-size="62.6" stroke="#000" stroke-width="0.3">100</text>
<text transform="translate(0,1587) scale(1,1.035)" x="1446.92 1481.12 1517.12" y="0" font-size="62.6" stroke="#000" stroke-width="0.3">120</text>
<text transform="translate(0,1587) scale(1,1.035)" x="1647.34 1681.54 1717.54" y="0" font-size="62.6" stroke="#000" stroke-width="0.3">140</text>
<text transform="translate(0,1587) scale(1,1.035)" x="1847.76 1881.96 1917.96" y="0" font-size="62.6" stroke="#000" stroke-width="0.3">160</text>
<text transform="translate(0,1587) scale(1,1.035)" x="2048.18 2082.38 2118.38" y="0" font-size="62.6" stroke="#000" stroke-width="0.3">180</text>
</g>
<g id="titles" font-family="'Liberation Sans', Arial, Helvetica, sans-serif" fill="#000">
<text transform="translate(1051.7,1720.8)" font-size="94">Strain<tspan font-size="88.36" dx="0.5">(</tspan><tspan dx="1.6">%</tspan><tspan font-size="88.36" dx="1.6">)</tspan></text>
<text transform="translate(96.8,1015.1) rotate(-90) scale(0.952,1.0)" font-size="94">Stress<tspan font-size="88.36" dx="0.3">(</tspan><tspan dx="1.6">MPa</tspan><tspan font-size="88.36" dx="1.5">)</tspan></text>
</g>
<g id="legend" font-family="'Liberation Sans', Arial, Helvetica, sans-serif" fill="#000">
<line x1="407" y1="157.0" x2="585.5" y2="157.0" stroke="#747474" stroke-width="12" stroke-linecap="round"/>
<text transform="translate(0,182.9) scale(1,1.02)" x="611.5 651.7 674.9 719" y="0" font-size="78.3">1.0%</text>
<line x1="407" y1="250.8" x2="585.5" y2="250.8" stroke="#FF3E3E" stroke-width="12" stroke-linecap="round"/>
<text transform="translate(0,277) scale(1,1.02)" x="611.5 651.7 674.9 719" y="0" font-size="78.3">1.5%</text>
<line x1="407" y1="344.0" x2="585.5" y2="344.0" stroke="#0072E6" stroke-width="12" stroke-linecap="round"/>
<text transform="translate(0,371.1) scale(1,1.02)" x="607.4 651.7 674.9 719" y="0" font-size="78.3">2.0%</text>
<line x1="407" y1="438.1" x2="585.5" y2="438.1" stroke="#00B068" stroke-width="12" stroke-linecap="round"/>
<text transform="translate(0,465.2) scale(1,1.02)" x="607.4 651.7 674.9 719" y="0" font-size="78.3">2.5%</text>
<line x1="407" y1="532.4" x2="585.5" y2="532.4" stroke="#C47AE4" stroke-width="12" stroke-linecap="round"/>
<text transform="translate(0,559.1) scale(1,1.02)" x="607.4 651.7 674.9 719" y="0" font-size="78.3">3.0%</text>
</g>
<g id="serif-trim" fill="#ffffff"><rect x="214.83" y="1235.97" width="12.3" height="7.44"/><rect x="232.66" y="1235.97" width="12.22" height="7.44"/><rect x="1249.94" y="1581.16" width="12.3" height="7.44"/><rect x="1267.77" y="1581.16" width="12.22" height="7.44"/><rect x="1450.36" y="1581.16" width="12.3" height="7.44"/><rect x="1468.19" y="1581.16" width="12.22" height="7.44"/><rect x="1650.78" y="1581.16" width="12.3" height="7.44"/><rect x="1668.61" y="1581.16" width="12.22" height="7.44"/><rect x="1851.2" y="1581.16" width="12.3" height="7.44"/><rect x="1869.04" y="1581.16" width="12.22" height="7.44"/><rect x="2051.62" y="1581.16" width="12.3" height="7.44"/><rect x="2069.46" y="1581.16" width="12.22" height="7.44"/><rect x="615.81" y="175.93" width="15.38" height="8.57"/><rect x="638.11" y="175.93" width="15.28" height="8.57"/><rect x="615.81" y="270.03" width="15.38" height="8.57"/><rect x="638.11" y="270.03" width="15.28" height="8.57"/></g>
</svg>
</body>
</html>
